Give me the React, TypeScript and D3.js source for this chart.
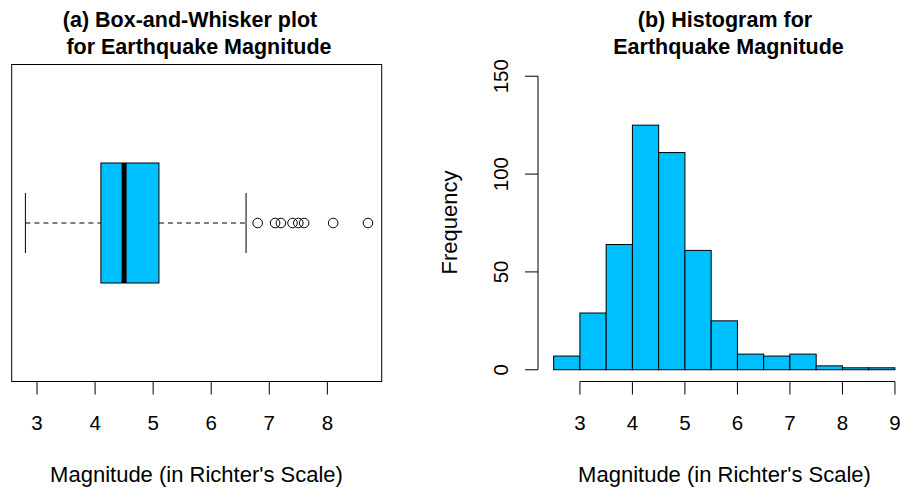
import React from 'react'
import * as d3 from 'd3'

// box-and-whisker summary: lower whisker, Q1, median, Q3, upper whisker
const boxStats = [2.8, 4.1, 4.5, 5.1, 6.6]
const outliers = [6.8, 7.1, 7.2, 7.4, 7.5, 7.6, 8.1, 8.7]
const boxTicks = [3, 4, 5, 6, 7, 8]

// histogram
const histBreaks = [2.5, 3, 3.5, 4, 4.5, 5, 5.5, 6, 6.5, 7, 7.5, 8, 8.5, 9]
const histCounts = [7, 29, 64, 125, 111, 61, 25, 8, 7, 8, 2, 1, 1]
const histXTicks = [3, 4, 5, 6, 7, 8, 9]
const histYTicks = [0, 50, 100, 150]

const W = 900
const H = 488
const FONT = "'Liberation Sans', Arial, Helvetica, sans-serif"
const FILL = '#00BFFF'
const TOP = 64.5
const BOTTOM = 381.5
const TITLE_SIZE = 21.5
const LAB_SIZE = 22
const TICK_SIZE = 20.5

// R style 4% extension
const ext = (lo: number, hi: number) => {
  const d = (hi - lo) * 0.04
  return [lo - d, hi + d]
}

const BoxPanel = () => {
  const left = 11.7
  const right = 381.7
  const all = [boxStats[0], ...outliers]
  const x = d3.scaleLinear().domain(ext(d3.min(all)!, d3.max(all)!)).range([left, right])
  const cy = (TOP + BOTTOM) / 2
  const half = 60
  const [lo, q1, med, q3, hi] = boxStats

  return (
    <g>
      <text x={190} y={27} textAnchor="middle" fontWeight="bold" fontSize={TITLE_SIZE}>(a) Box-and-Whisker plot</text>
      <text x={199} y={54} textAnchor="middle" fontWeight="bold" fontSize={TITLE_SIZE}>for Earthquake Magnitude</text>

      {/* whiskers */}
      <line x1={x(lo)} x2={x(q1)} y1={cy} y2={cy} stroke="#000" strokeDasharray="5,4" />
      <line x1={x(q3)} x2={x(hi)} y1={cy} y2={cy} stroke="#000" strokeDasharray="5,4" />
      <line x1={x(lo)} x2={x(lo)} y1={cy - half / 2} y2={cy + half / 2} stroke="#000" />
      <line x1={x(hi)} x2={x(hi)} y1={cy - half / 2} y2={cy + half / 2} stroke="#000" />

      {/* box */}
      <rect x={x(q1)} y={cy - half} width={x(q3) - x(q1)} height={half * 2} fill={FILL} stroke="#000" />
      <line x1={x(med)} x2={x(med)} y1={cy - half} y2={cy + half} stroke="#000" strokeWidth={5} />

      {outliers.map((v, i) => (
        <circle key={i} cx={x(v)} cy={cy} r={4.8} fill="none" stroke="#000" />
      ))}

      <rect x={left} y={TOP} width={right - left} height={BOTTOM - TOP} fill="none" stroke="#000" />

      {/* x axis */}
      <line x1={x(boxTicks[0])} x2={x(boxTicks[boxTicks.length - 1])} y1={BOTTOM} y2={BOTTOM} stroke="#000" />
      {boxTicks.map((t) => (
        <g key={t}>
          <line x1={x(t)} x2={x(t)} y1={BOTTOM} y2={BOTTOM + 13} stroke="#000" />
          <text x={x(t)} y={430} textAnchor="middle" fontSize={TICK_SIZE}>{t}</text>
        </g>
      ))}
      <text x={196.5} y={481.5} textAnchor="middle" fontSize={LAB_SIZE}>Magnitude (in Richter's Scale)</text>
    </g>
  )
}

const HistPanel = () => {
  const left = 540
  const x = d3.scaleLinear().domain(ext(2.5, 9)).range([left, left + 368.6])
  const y = d3.scaleLinear().domain(ext(0, 150)).range([BOTTOM, TOP])
  const bins = histCounts.map((c, i) => ({ x0: histBreaks[i], x1: histBreaks[i + 1], c }))

  return (
    <g>
      <text x={725} y={27} textAnchor="middle" fontWeight="bold" fontSize={TITLE_SIZE}>(b) Histogram for</text>
      <text x={728.5} y={54} textAnchor="middle" fontWeight="bold" fontSize={TITLE_SIZE}>Earthquake Magnitude</text>

      {bins.map((b, i) => (
        <rect key={i} x={x(b.x0)} y={y(b.c)} width={x(b.x1) - x(b.x0)} height={y(0) - y(b.c)}
          fill={FILL} stroke="#000" strokeWidth={1} />
      ))}

      {/* y axis */}
      <line x1={538} x2={538} y1={y(0)} y2={y(150)} stroke="#000" />
      {histYTicks.map((t) => (
        <g key={t}>
          <line x1={538} x2={525} y1={y(t)} y2={y(t)} stroke="#000" />
          <text transform={`translate(508,${y(t)}) rotate(-90)`} textAnchor="middle" fontSize={TICK_SIZE}>{t}</text>
        </g>
      ))}
      <text transform={`translate(457,222.5) rotate(-90)`} textAnchor="middle" fontSize={LAB_SIZE}>Frequency</text>

      {/* x axis */}
      <line x1={x(3)} x2={x(9)} y1={BOTTOM} y2={BOTTOM} stroke="#000" />
      {histXTicks.map((t) => (
        <g key={t}>
          <line x1={x(t)} x2={x(t)} y1={BOTTOM} y2={BOTTOM + 13} stroke="#000" />
          <text x={x(t)} y={430} textAnchor="middle" fontSize={TICK_SIZE}>{t}</text>
        </g>
      ))}
      <text x={724.5} y={481.5} textAnchor="middle" fontSize={LAB_SIZE}>Magnitude (in Richter's Scale)</text>
    </g>
  )
}

export default function App () {
  return (
    <svg width={W} height={H} style={{ position: 'absolute', left: 0, top: 0, background: '#fff' }}
      fontFamily={FONT}>
      <rect width={W} height={H} fill="#fff" />
      <BoxPanel />
      <HistPanel />
    </svg>
  )
}
